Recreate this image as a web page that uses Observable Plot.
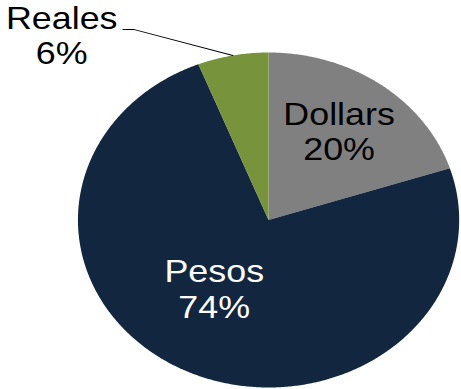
<!DOCTYPE html>
<html>
<head>
<meta charset="utf-8">
<script src="https://cdn.jsdelivr.net/npm/d3@7"></script>
<script src="https://cdn.jsdelivr.net/npm/@observablehq/plot@0.6"></script>
<style>
  html, body { margin: 0; padding: 0; background: #fff; }
  #chart svg { display: block; transform: scaleX(1.138); transform-origin: 0 0; }
</style>
</head>
<body>
<div id="chart"></div>
<script>
// ---- data ----
const categories = ["Dollars", "Pesos", "Reales"];
const shares = [20, 74, 6];              // percent
const sliceColors = ["#808080", "#12263f", "#77933c"];

// ---- layout (label placement, in pie-radius units) ----
const W = 405, H = 389;
const labelPlacement = {
  Dollars: {x: 0.37, y: 0.53, color: "#000"},
  Pesos:   {x: -0.285, y: -0.41, color: "#fff"},
  Reales:  {x: -1.085, y: 1.105, color: "#000"}
};

const pie = d3.pie().sort(null).value(d => d.share);
const rows = categories.map((c, i) => ({cat: c, share: shares[i]}));
const arcs = pie(rows);

// slice outlines as polygons in unit-circle coordinates (y up, angle clockwise from top)
const slicePts = [];
for (const a of arcs) {
  const cat = a.data.cat;
  slicePts.push({cat, x: 0, y: 0});
  const n = Math.max(2, Math.ceil((a.endAngle - a.startAngle) / (Math.PI / 360)));
  for (let k = 0; k <= n; k++) {
    const t = a.startAngle + (a.endAngle - a.startAngle) * k / n;
    slicePts.push({cat, x: Math.sin(t), y: Math.cos(t)});
  }
}

const labels = arcs.map(a => ({
  cat: a.data.cat,
  text: `${a.data.cat}\n${a.data.share}%`,
  x: labelPlacement[a.data.cat].x,
  y: labelPlacement[a.data.cat].y,
  color: labelPlacement[a.data.cat].color
}));

// leader line for the outside (Reales) label, ending at the slice's mid-angle on the rim
const reales = arcs.find(a => a.data.cat === "Reales");
const mid = (reales.startAngle + reales.endAngle) / 2;
const leader = [
  {x: -0.764, y: 1.138},
  {x: -0.709, y: 1.138},
  {x: Math.sin(mid), y: Math.cos(mid)}
];

const chart = Plot.plot({
  width: W,
  height: H,
  marginLeft: 68,
  marginRight: 2,
  marginTop: 52,
  marginBottom: 2,
  x: {domain: [-1, 1], axis: null},
  y: {domain: [-1, 1], axis: null},
  color: {domain: categories, range: sliceColors},
  style: {fontFamily: "'Liberation Sans', Arial, sans-serif", background: "#fff"},
  marks: [
    Plot.line(slicePts, {x: "x", y: "y", z: "cat", fill: "cat", stroke: "none", curve: "linear-closed"}),
    Plot.line(leader, {x: "x", y: "y", stroke: "#000", strokeWidth: 1}),
    ...labels.map(l => Plot.text([l], {
      x: "x", y: "y", text: "text", fill: l.color,
      fontSize: 31.5, lineHeight: 1.13, textAnchor: "middle", lineAnchor: "middle"
    }))
  ]
});
document.getElementById("chart").appendChild(chart);
</script>
</body>
</html>
